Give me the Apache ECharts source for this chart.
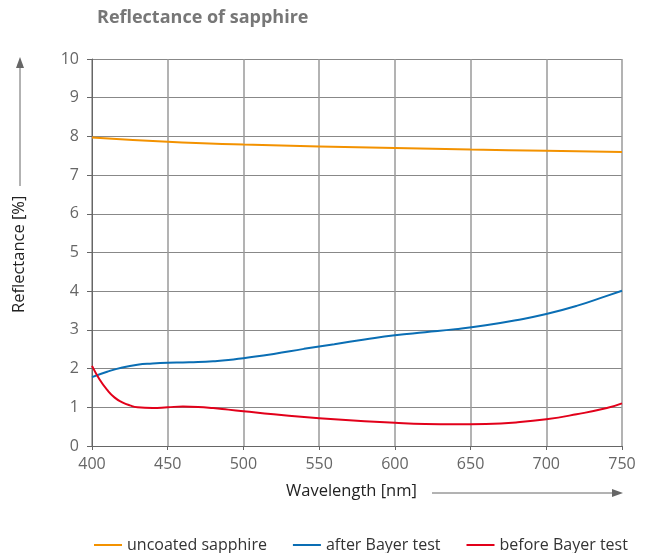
<!DOCTYPE html>
<html>
<head>
<meta charset="utf-8">
<script src="https://cdn.jsdelivr.net/npm/echarts@6/dist/echarts.min.js"></script>
<style>
    html, body { margin: 0; padding: 0; background: #fff; }
    #chart { width: 646px; height: 553px; }
</style>
</head>
<body>
<div id="chart"></div>
<script>
// wavelengths [nm] and reflectance [%]
var wlOrange = [400, 450, 500, 550, 600, 650, 700, 750];
var uncoated = [7.97, 7.86, 7.79, 7.74, 7.70, 7.66, 7.63, 7.60];

var wlBlue = [400, 410, 420, 430, 440, 450, 460, 470, 480, 490, 500, 520, 540, 560, 580, 600, 620, 640, 660, 680, 700, 720, 740, 750];
var afterBayer = [1.78, 1.92, 2.03, 2.10, 2.13, 2.15, 2.16, 2.17, 2.19, 2.22, 2.27, 2.38, 2.51, 2.63, 2.75, 2.86, 2.94, 3.02, 3.12, 3.25, 3.41, 3.62, 3.88, 4.01];

var wlRed = [400, 405, 410, 415, 420, 425, 430, 440, 450, 460, 470, 480, 490, 500, 520, 540, 560, 580, 600, 620, 640, 660, 680, 700, 720, 740, 750];
var beforeBayer = [2.07, 1.72, 1.45, 1.25, 1.13, 1.05, 1.00, 0.98, 1.00, 1.02, 1.01, 0.98, 0.94, 0.90, 0.82, 0.75, 0.69, 0.64, 0.60, 0.57, 0.56, 0.57, 0.61, 0.69, 0.82, 0.98, 1.10];

function pairs(xs, ys) {
    return xs.map(function (x, i) { return [x, ys[i]]; });
}

var chart = echarts.init(document.getElementById('chart'));

chart.setOption({
    animation: false,
    textStyle: { fontFamily: 'Open Sans' },
    title: {
        text: 'Reflectance of sapphire',
        left: 92,
        top: 4,
        textStyle: { color: '#777', fontSize: 18, fontWeight: 'bold', fontFamily: 'Open Sans' }
    },
    grid: { left: 92, right: 24, top: 59, bottom: 107, containLabel: false },
    legend: {
        top: 532,
        left: 89,
        itemGap: 26,
        itemWidth: 28,
        itemHeight: 2,
        icon: 'rect',
        textStyle: { color: '#333', fontSize: 16 },
        data: ['uncoated sapphire', 'after Bayer test', 'before Bayer test']
    },
    xAxis: {
        type: 'value',
        min: 400,
        max: 750,
        interval: 50,
        axisLine: { lineStyle: { color: '#666', width: 1 } },
        axisTick: { show: true, length: 4, lineStyle: { color: '#666' } },
        axisLabel: { color: '#666', fontSize: 16, margin: 10 },
        splitLine: { show: true, lineStyle: { color: '#9a9a9a', width: 1.5 } }
    },
    yAxis: {
        type: 'value',
        min: 0,
        max: 10,
        interval: 1,
        axisLine: { show: true, lineStyle: { color: '#666', width: 1 } },
        axisTick: { show: true, length: 5, lineStyle: { color: '#666' } },
        axisLabel: { color: '#666', fontSize: 16, margin: 13 },
        splitLine: { show: true, lineStyle: { color: '#888', width: 1.2 } }
    },
    graphic: [
        {
            type: 'text',
            rotation: Math.PI / 2,
            x: 11, y: 313,
            style: { text: 'Reflectance [%]', fill: '#222', fontSize: 16.5, fontFamily: 'Open Sans' }
        },
        {
            type: 'line',
            shape: { x1: 20, y1: 186, x2: 20, y2: 68 },
            style: { stroke: '#666', lineWidth: 1 }
        },
        {
            type: 'polygon',
            shape: { points: [[16, 68], [24, 68], [20, 57]] },
            style: { fill: '#666' }
        },
        {
            type: 'text',
            x: 286,
            y: 483,
            style: { text: 'Wavelength [nm]', fill: '#222', fontSize: 16.5, fontFamily: 'Open Sans' }
        },
        {
            type: 'line',
            shape: { x1: 432, y1: 493, x2: 612, y2: 493 },
            style: { stroke: '#666', lineWidth: 1 }
        },
        {
            type: 'polygon',
            shape: { points: [[612, 489], [612, 497], [623, 493]] },
            style: { fill: '#666' }
        }
    ],
    series: [
        {
            name: 'uncoated sapphire',
            type: 'line',
            smooth: true,
            showSymbol: false,
            color: '#F39200',
            lineStyle: { width: 2 },
            data: pairs(wlOrange, uncoated)
        },
        {
            name: 'after Bayer test',
            type: 'line',
            smooth: true,
            showSymbol: false,
            color: '#0A6EB4',
            lineStyle: { width: 2 },
            data: pairs(wlBlue, afterBayer)
        },
        {
            name: 'before Bayer test',
            type: 'line',
            smooth: true,
            showSymbol: false,
            color: '#E2001A',
            lineStyle: { width: 2 },
            data: pairs(wlRed, beforeBayer)
        }
    ]
});
</script>
</body>
</html>
